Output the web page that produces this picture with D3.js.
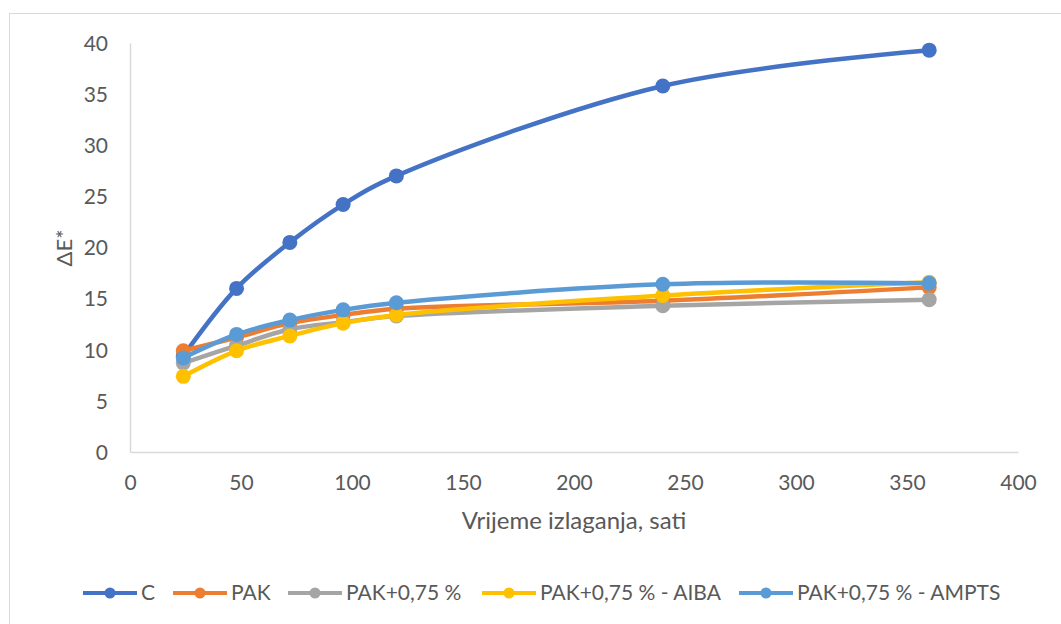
<!DOCTYPE html>
<html>
<head>
<meta charset="utf-8">
<script src="https://cdn.jsdelivr.net/npm/d3@7"></script>
<style>
  html, body { margin: 0; padding: 0; background: #fff; }
  svg { display: block; }
  text { font-family: Lato, "Open Sans", sans-serif; fill: #595959; }
</style>
</head>
<body>
<svg id="chart" width="1061" height="624"></svg>
<script>
const hours = [24, 48, 72, 96, 120, 240, 360];
const seriesNames = ["C", "PAK", "PAK+0,75 %", "PAK+0,75 % - AIBA", "PAK+0,75 % - AMPTS"];
const valuesC = [9.4, 16.0, 20.5, 24.2, 27.0, 35.8, 39.3];
const valuesPAK = [9.9, 11.2, 12.6, 13.4, 14.0, 14.8, 16.1];
const valuesPAK075 = [8.7, 10.4, 12.0, 12.7, 13.3, 14.3, 14.9];
const valuesAIBA = [7.4, 9.9, 11.35, 12.6, 13.4, 15.3, 16.6];
const valuesAMPTS = [9.2, 11.5, 12.9, 13.9, 14.6, 16.4, 16.5];
const colors = ["#4472C4", "#ED7D31", "#A5A5A5", "#FFC000", "#5B9BD5"];
const xTicks = [0, 50, 100, 150, 200, 250, 300, 350, 400];
const yTicks = [0, 5, 10, 15, 20, 25, 30, 35, 40];
const xTitle = "Vrijeme izlaganja, sati";
const yTitle = "ΔE*";

const allValues = [valuesC, valuesPAK, valuesPAK075, valuesAIBA, valuesAMPTS];
const series = seriesNames.map((name, i) => ({
  name, color: colors[i],
  points: hours.map((h, j) => ({ x: h, y: allValues[i][j] }))
}));

const svg = d3.select("#chart");
const fs = 21;

// chart border
svg.append("rect").attr("x", 9.5).attr("y", 13.5).attr("width", 1100).attr("height", 700)
  .attr("fill", "#fff").attr("stroke", "#d9d9d9").attr("stroke-width", 1);

const x = d3.scaleLinear().domain([0, 400]).range([130, 1018]);
const y = d3.scaleLinear().domain([0, 40]).range([452, 43]);

// axes
const xAxis = svg.append("g").attr("transform", `translate(0,${y(0)})`)
  .call(d3.axisBottom(x).tickValues(xTicks).tickSize(0).tickPadding(22));
const yAxis = svg.append("g").attr("transform", `translate(${x(0)},0)`)
  .call(d3.axisLeft(y).tickValues(yTicks).tickSize(0).tickPadding(22));
[xAxis, yAxis].forEach(g => {
  g.select(".domain").attr("stroke", "#d9d9d9").attr("stroke-width", 1.5);
  g.selectAll("text").attr("font-size", fs).attr("font-family", "Lato, 'Open Sans', sans-serif").attr("fill", "#595959");
});
xAxis.selectAll("text").attr("dy", "0.71em").attr("y", 0).attr("transform", "translate(0,23)");
yAxis.selectAll("text").attr("dy", "0.35em");

// titles
svg.append("text").attr("x", 574).attr("y", 529).attr("text-anchor", "middle")
  .attr("font-size", 24).text(xTitle);
svg.append("text").attr("transform", `translate(72,248) rotate(-90)`)
  .attr("text-anchor", "middle").attr("font-size", 22).text(yTitle);

// lines
const line = d3.line().x(d => x(d.x)).y(d => y(d.y)).curve(d3.curveCatmullRom.alpha(0.5));
const sg = svg.append("g").selectAll("g").data(series).join("g");
sg.append("path").attr("d", d => line(d.points)).attr("fill", "none")
  .attr("stroke", d => d.color).attr("stroke-width", 4.5).attr("stroke-linecap", "round");
sg.selectAll("circle").data(d => d.points.map(p => ({ ...p, color: d.color }))).join("circle")
  .attr("cx", d => x(d.x)).attr("cy", d => y(d.y)).attr("r", 7.5).attr("fill", d => d.color);

// legend
const legendX = [83, 173, 288, 482, 739];
const lg = svg.append("g").selectAll("g").data(series).join("g")
  .attr("transform", (d, i) => `translate(${legendX[i]},593)`);
lg.append("line").attr("x1", 0).attr("x2", 54).attr("stroke", d => d.color).attr("stroke-width", 4);
lg.append("circle").attr("cx", 27).attr("r", 5.5).attr("fill", d => d.color);
lg.append("text").attr("x", 58).attr("y", 0).attr("dy", "0.35em").attr("font-size", fs).text(d => d.name);
</script>
</body>
</html>
